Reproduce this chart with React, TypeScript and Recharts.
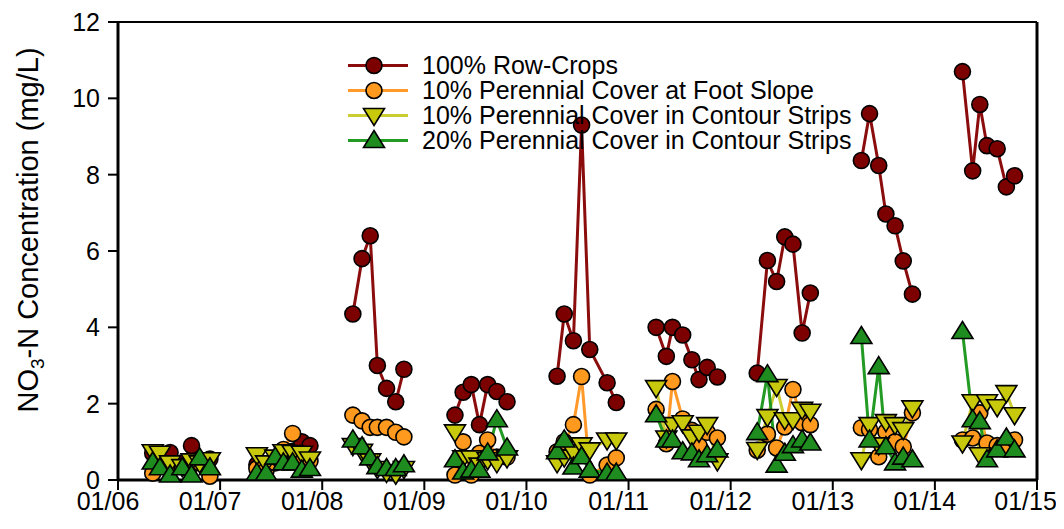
import { LineChart, Line, XAxis, YAxis, ReferenceLine, Legend } from 'recharts'

const FONT = '"Liberation Sans", Arial, sans-serif'

const YEARS = [2006, 2007, 2008, 2009, 2010, 2011, 2012, 2013, 2014]
const X_TICKS = [2006, 2007, 2008, 2009, 2010, 2011, 2012, 2013, 2014, 2015]
const Y_TICKS = [0, 2, 4, 6, 8, 10, 12]

// sampling dates inside each year (fraction of the year)
const SAMPLE_TIMES: number[][] = [
  [0.34, 0.41, 0.51, 0.63, 0.72, 0.8, 0.9],
  [0.36, 0.45, 0.54, 0.62, 0.71, 0.8, 0.88],
  [0.3, 0.39, 0.47, 0.54, 0.63, 0.72, 0.8],
  [0.3, 0.38, 0.46, 0.54, 0.62, 0.71, 0.81],
  [0.3, 0.37, 0.46, 0.54, 0.62, 0.79, 0.88],
  [0.27, 0.37, 0.43, 0.53, 0.62, 0.69, 0.77, 0.87],
  [0.26, 0.36, 0.45, 0.53, 0.61, 0.7, 0.78],
  [0.28, 0.36, 0.45, 0.52, 0.61, 0.69, 0.78],
  [0.27, 0.37, 0.44, 0.51, 0.61, 0.7, 0.78],
]

// NO3-N (mg/L), one row per year
const rowCrops: number[][] = [
  [0.7, 0.62, 0.72, 0.45, 0.9, 0.5, 0.55],
  [0.4, 0.35, 0.5, 0.6, 0.75, 1.0, 0.9],
  [4.35, 5.8, 6.4, 3.0, 2.4, 2.05, 2.9],
  [1.7, 2.3, 2.5, 1.45, 2.5, 2.32, 2.05],
  [2.72, 4.35, 3.65, 9.3, 3.42, 2.55, 2.03],
  [4.0, 3.24, 4.0, 3.8, 3.15, 2.63, 2.95, 2.7],
  [2.8, 5.75, 5.2, 6.37, 6.18, 3.85, 4.9],
  [8.37, 9.6, 8.24, 6.97, 6.66, 5.74, 4.87],
  [10.7, 8.1, 9.84, 8.76, 8.68, 7.68, 7.97],
]

const footSlope: number[][] = [
  [0.18, 0.4, 0.3, 0.35, 0.4, 0.45, 0.1],
  [0.3, 0.25, 0.45, 0.8, 1.22, 0.55, 0.5],
  [1.7, 1.55, 1.38, 1.38, 1.38, 1.25, 1.13],
  [0.13, 1.0, 0.13, 0.7, 1.05, 0.6, 0.6],
  [0.74, 1.0, 1.45, 2.71, 0.13, 0.39, 0.58],
  [1.85, 0.95, 2.58, 1.6, 1.3, 0.9, 1.25, 1.1],
  [0.78, 1.2, 0.84, 1.39, 2.37, 1.5, 1.45],
  [1.37, 1.32, 0.61, 1.26, 1.0, 0.87, 1.76],
  [1.05, 1.1, 1.76, 0.97, 0.9, 0.87, 1.05],
]

const contour10: number[][] = [
  [0.74, 0.7, 0.45, 0.35, 0.5, 0.45, 0.53],
  [0.66, 0.45, 0.6, 0.74, 0.72, 0.7, 0.55],
  [0.9, 0.75, 0.5, 0.3, 0.2, 0.15, 0.3],
  [1.26, 0.58, 0.58, 0.39, 0.53, 0.45, 0.58],
  [0.45, 0.6, 0.74, 0.92, 0.79, 1.05, 1.05],
  [2.42, 1.1, 1.45, 1.5, 1.13, 1.25, 1.45, 0.5],
  [0.8, 1.66, 2.45, 1.58, 1.58, 1.85, 1.8],
  [0.53, 1.45, 0.92, 1.53, 1.45, 1.32, 1.89],
  [0.97, 2.05, 0.66, 2.05, 1.92, 2.29, 1.71],
]

const contour20: number[][] = [
  [0.47, 0.32, 0.13, 0.32, 0.13, 0.58, 0.32],
  [0.18, 0.18, 0.6, 0.45, 0.45, 0.26, 0.3],
  [1.05, 0.87, 0.58, 0.35, 0.3, 0.3, 0.4],
  [0.53, 0.21, 0.26, 0.26, 0.71, 1.58, 0.84],
  [0.74, 1.05, 0.34, 0.61, 0.26, 0.18, 0.18],
  [1.71, 1.05, 1.05, 0.74, 0.71, 0.53, 0.66, 0.79],
  [1.24, 2.76, 0.39, 0.7, 0.9, 1.05, 0.97],
  [3.76, 1.05, 2.97, 0.87, 0.45, 0.6, 0.53],
  [3.89, 1.58, 1.53, 0.53, 0.79, 1.1, 0.79],
]

type Shape = 'circle' | 'down' | 'up'

const SERIES: { name: string; values: number[][]; fill: string; line: string; shape: Shape }[] = [
  { name: '100% Row-Crops', values: rowCrops, fill: '#7d0000', line: '#8a0c0c', shape: 'circle' },
  { name: '10% Perennial Cover at Foot Slope', values: footSlope, fill: '#ff9a1e', line: '#ff9a2a', shape: 'circle' },
  { name: '10% Perennial Cover in Contour Strips', values: contour10, fill: '#c8c80c', line: '#cccc33', shape: 'down' },
  { name: '20% Perennial Cover in Contour Strips', values: contour20, fill: '#1e8c1e', line: '#239a23', shape: 'up' },
]

// one row per sample, with a null between years so the line breaks
function toPoints(values: number[][]) {
  const pts: { t: number; v: number | null }[] = []
  YEARS.forEach((yr, i) => {
    SAMPLE_TIMES[i].forEach((f, j) => pts.push({ t: yr + f, v: values[i][j] }))
    pts.push({ t: yr + 0.97, v: null })
  })
  return pts
}

function Marker({ cx, cy, shape, fill }: { cx: number; cy: number; shape: Shape; fill: string }) {
  if (shape === 'circle') {
    return <circle cx={cx} cy={cy} r={8} fill={fill} stroke="#000" strokeWidth={1.6} />
  }
  const w = 10.5
  const pts =
    shape === 'up'
      ? `${cx},${cy - 10} ${cx + w},${cy + 7} ${cx - w},${cy + 7}`
      : `${cx},${cy + 10} ${cx + w},${cy - 7} ${cx - w},${cy - 7}`
  return <polygon points={pts} fill={fill} stroke="#000" strokeWidth={1.6} strokeLinejoin="miter" />
}

const makeDot = (shape: Shape, fill: string) => (props: any) => {
  const { cx, cy, index, payload } = props
  if (payload?.v == null || cx == null || cy == null || isNaN(cy)) return <g key={index} />
  return (
    <g key={index}>
      <Marker cx={cx} cy={cy} shape={shape} fill={fill} />
    </g>
  )
}

function LegendBox() {
  return (
    <div style={{ fontFamily: FONT, fontSize: 25, color: '#000' }}>
      {SERIES.map(s => (
        <div key={s.name} style={{ display: 'flex', alignItems: 'center', height: 25 }}>
          <svg width={62} height={25} style={{ flex: 'none' }}>
            <line x1={0} y1={12.5} x2={60} y2={12.5} stroke={s.line} strokeWidth={3} />
            <Marker cx={26} cy={12.5} shape={s.shape} fill={s.fill} />
          </svg>
          <span style={{ marginLeft: 12, whiteSpace: 'nowrap' }}>{s.name}</span>
        </div>
      ))}
    </div>
  )
}

function YTitle() {
  const x = 30
  const y = 222
  return (
    <text
      x={x}
      y={y}
      transform={`rotate(-90, ${x}, ${y})`}
      textAnchor="middle"
      fontFamily={FONT}
      fontSize={29}
      fill="#000"
    >
      NO<tspan fontSize={19} dy={6}>3</tspan>
      <tspan dy={-6}>-N Concentration (mg/L)</tspan>
    </text>
  )
}

const tickStyle = { fontSize: 25, fontFamily: FONT, fill: '#000' }

export default function App() {
  return (
    <div style={{ position: 'relative', width: 1056, height: 515 }}>
      <LineChart width={1056} height={515} margin={{ top: 14, right: 27, bottom: 3, left: 0 }}>
        <Legend
          layout="vertical"
          align="center"
          verticalAlign="middle"
          wrapperStyle={{ left: 340, top: 45, width: 600 }}
          content={() => <LegendBox />}
        />
        <XAxis
          dataKey="t"
          type="number"
          domain={[2006, 2015]}
          ticks={X_TICKS}
          allowDataOverflow
          tickFormatter={(v: number) => '01/' + String(v).slice(2)}
          tick={{ ...tickStyle, dx: -10 }}
          tickSize={10}
          tickMargin={2}
          height={40}
          axisLine={{ stroke: '#000', strokeWidth: 3 }}
          tickLine={{ stroke: '#000', strokeWidth: 2 }}
        />
        <YAxis
          type="number"
          domain={[0, 12]}
          ticks={Y_TICKS}
          width={110}
          tick={tickStyle}
          tickSize={10}
          tickMargin={8}
          axisLine={{ stroke: '#000', strokeWidth: 3 }}
          tickLine={{ stroke: '#000', strokeWidth: 2 }}
          label={{ content: () => <YTitle /> }}
        />
        <ReferenceLine y={12} stroke="#000" strokeWidth={2} />
        <ReferenceLine x={2015} stroke="#000" strokeWidth={3} />
        {SERIES.map(s => (
          <Line
            key={s.name}
            data={toPoints(s.values)}
            dataKey="v"
            name={s.name}
            type="linear"
            stroke={s.line}
            strokeWidth={3}
            dot={makeDot(s.shape, s.fill)}
            activeDot={false}
            legendType="none"
            isAnimationActive={false}
          />
        ))}
      </LineChart>
    </div>
  )
}
